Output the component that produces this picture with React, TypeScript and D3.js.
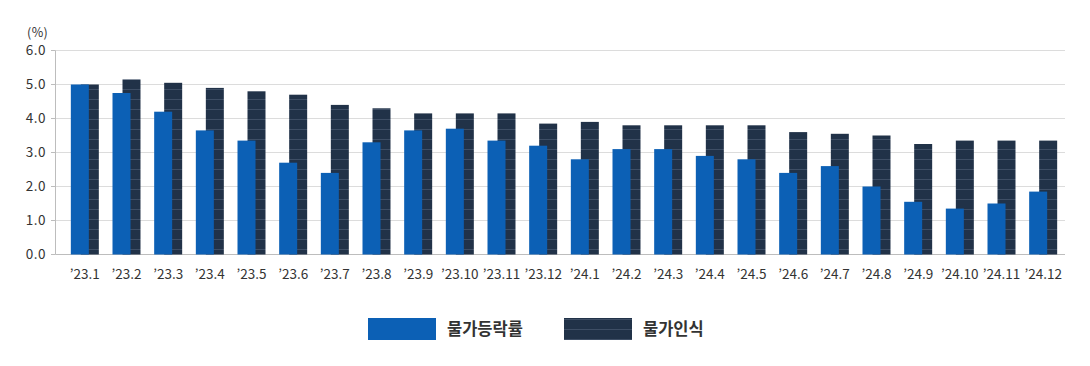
import { useEffect, useRef } from "react";
import * as d3 from "d3";

const months = [
  "’23.1", "’23.2", "’23.3", "’23.4", "’23.5", "’23.6", "’23.7", "’23.8",
  "’23.9", "’23.10", "’23.11", "’23.12", "’24.1", "’24.2", "’24.3", "’24.4",
  "’24.5", "’24.6", "’24.7", "’24.8", "’24.9", "’24.10", "’24.11", "’24.12",
];

// 물가등락률
const priceChange = [
  5.0, 4.75, 4.2, 3.65, 3.35, 2.7, 2.4, 3.3, 3.65, 3.7, 3.35, 3.2,
  2.8, 3.1, 3.1, 2.9, 2.8, 2.4, 2.6, 2.0, 1.55, 1.35, 1.5, 1.85,
];

// 물가인식
const perceived = [
  5.0, 5.15, 5.05, 4.9, 4.8, 4.7, 4.4, 4.3, 4.15, 4.15, 4.15, 3.85,
  3.9, 3.8, 3.8, 3.8, 3.8, 3.6, 3.55, 3.5, 3.25, 3.35, 3.35, 3.35,
];

const yTicks = [0, 1, 2, 3, 4, 5, 6];
const seriesNames = ["물가등락률", "물가인식"];

const BLUE = "#0c60b5";
const NAVY = "#213248";
const STRIPE = "#3e4e65";
const FONT = "'Noto Sans CJK KR', 'Noto Sans', sans-serif";

const Chart = () => {
  const svgRef = useRef(null);

  useEffect(() => {
    if (!svgRef.current) return;
    const root = d3.select(svgRef.current);
    root.selectAll("*").remove();

    const W = 1090;
    const H = 366;
    root.attr("width", W).attr("height", H);

    // striped fill for the dark bars
    const defs = root.append("defs");
    const pat = defs
      .append("pattern")
      .attr("id", "stripes")
      .attr("patternUnits", "userSpaceOnUse")
      .attr("x", 0)
      .attr("y", 0)
      .attr("width", 10)
      .attr("height", 10);
    pat.append("rect").attr("width", 10).attr("height", 10).attr("fill", NAVY);
    pat
      .append("rect")
      .attr("x", 0)
      .attr("y", 9)
      .attr("width", 10)
      .attr("height", 1)
      .attr("fill", STRIPE);

    const x = d3.scaleBand().domain(months).range([64, 1064]).padding(0);
    const y = d3.scaleLinear().domain([0, 6]).range([254.5, 50.5]);

    const plotLeft = 55.5;
    const plotRight = 1065;

    // grid
    root
      .append("g")
      .selectAll("line")
      .data(yTicks)
      .join("line")
      .attr("x1", plotLeft)
      .attr("x2", plotRight)
      .attr("y1", (d) => y(d))
      .attr("y2", (d) => y(d))
      .attr("stroke", (d) => (d === 0 ? "#bdbdbd" : "#dcdcdc"))
      .attr("stroke-width", 1);

    // y axis line + ticks
    root
      .append("line")
      .attr("x1", plotLeft)
      .attr("x2", plotLeft)
      .attr("y1", y(6))
      .attr("y2", y(0))
      .attr("stroke", "#bdbdbd");

    root
      .append("g")
      .selectAll("line")
      .data(yTicks)
      .join("line")
      .attr("x1", 51)
      .attr("x2", plotLeft)
      .attr("y1", (d) => y(d))
      .attr("y2", (d) => y(d))
      .attr("stroke", "#bdbdbd");

    root
      .append("g")
      .selectAll("text")
      .data(yTicks)
      .join("text")
      .attr("x", 46)
      .attr("y", (d) => y(d))
      .attr("dy", "0.35em")
      .attr("text-anchor", "end")
      .attr("font-family", FONT)
      .attr("font-size", 13.5)
      .attr("letter-spacing", 0.5)
      .attr("fill", "#333")
      .text((d) => d3.format(".1f")(d));

    root
      .append("text")
      .attr("x", 27)
      .attr("y", 37)
      .attr("font-family", FONT)
      .attr("font-size", 12.5)
      .attr("letter-spacing", 0.4)
      .attr("fill", "#333")
      .text("(%)");

    const center = (m: string) => (x(m) as number) + x.bandwidth() / 2;
    const barW = 18;

    // dark bars (behind)
    root
      .append("g")
      .selectAll("rect")
      .data(months)
      .join("rect")
      .attr("x", (m) => center(m) - 4)
      .attr("y", (_m, i) => y(perceived[i]))
      .attr("width", barW)
      .attr("height", (_m, i) => y(0) - y(perceived[i]))
      .attr("fill", "url(#stripes)");

    // blue bars (front)
    root
      .append("g")
      .selectAll("rect")
      .data(months)
      .join("rect")
      .attr("x", (m) => center(m) - 14)
      .attr("y", (_m, i) => y(priceChange[i]))
      .attr("width", barW)
      .attr("height", (_m, i) => y(0) - y(priceChange[i]))
      .attr("fill", BLUE);

    // x labels
    root
      .append("g")
      .selectAll("text")
      .data(months)
      .join("text")
      .attr("x", (m) => center(m))
      .attr("y", 279)
      .attr("text-anchor", "middle")
      .attr("font-family", FONT)
      .attr("font-size", 13.5)
      .attr("fill", "#333")
      .text((m) => m);

    // legend
    const legend = root.append("g");
    const items = [
      { name: seriesNames[0], fill: BLUE, x: 368 },
      { name: seriesNames[1], fill: "url(#stripes)", x: 564 },
    ];
    items.forEach((it) => {
      legend
        .append("rect")
        .attr("x", it.x)
        .attr("y", 318)
        .attr("width", 68)
        .attr("height", 22)
        .attr("fill", it.fill);
      legend
        .append("text")
        .attr("x", it.x + 79)
        .attr("y", 329)
        .attr("dy", "0.36em")
        .attr("font-family", FONT)
        .attr("font-size", 16.5)
        .attr("font-weight", 700)
        .attr("fill", "#333")
        .text(it.name);
    });
  }, []);

  return (
    <svg
      ref={svgRef}
      style={{ position: "absolute", left: 0, top: 0, display: "block" }}
    />
  );
};

export default function App() {
  return <Chart />;
}
